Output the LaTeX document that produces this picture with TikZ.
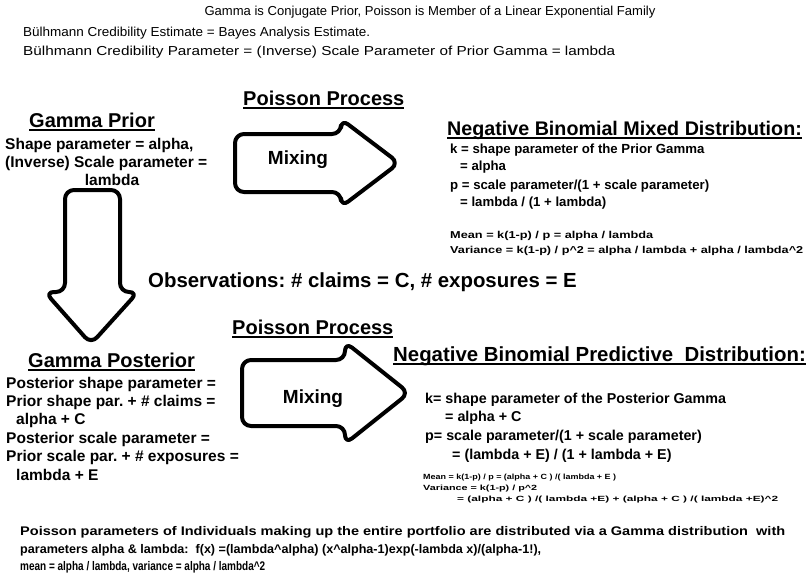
\documentclass[tikz,border=0pt]{standalone}
\usepackage{fontspec}
\usepackage{graphicx}
\setmainfont{Liberation Sans}
\newcommand\fitw[2]{\resizebox{#1}{\height}{#2}}
\newcommand\ulx[1]{\setbox0\hbox{#1}\rlap{\rule[-4pt]{\wd0}{2.2pt}}\box0}
\frenchspacing
\begin{document}
\begin{tikzpicture}[x=1pt,y=-1pt,
  txt/.style={anchor=west,inner sep=0pt,font=\fontsize{13}{15}\selectfont},
  lbody/.style={anchor=west,inner sep=0pt,font=\fontsize{15.5}{17}\bfseries\selectfont},
  rbody/.style={anchor=west,inner sep=0pt,font=\fontsize{13.2}{15}\bfseries\selectfont},
  rbody2/.style={anchor=west,inner sep=0pt,font=\fontsize{14.3}{16}\bfseries\selectfont},
  head/.style={anchor=base west,inner sep=0pt,font=\fontsize{20}{22}\bfseries\selectfont},
  small/.style={anchor=west,inner sep=0pt,font=\fontsize{10}{11}\bfseries\selectfont},
  tiny/.style={anchor=west,inner sep=0pt,font=\fontsize{7.5}{8}\bfseries\selectfont},
  foot/.style={anchor=west,inner sep=0pt,font=\fontsize{12.5}{14}\bfseries\selectfont},
  bigarrow/.style={draw=black,line width=4pt,rounded corners=9pt,line join=round},
  mix/.style={inner sep=0pt,font=\fontsize{19}{21}\bfseries\selectfont}]
\useasboundingbox (0,0) rectangle (810,578);

% header
\node[inner sep=0pt,font=\fontsize{13}{15}\selectfont] (title) at (430,12) {\fitw{451pt}{Gamma is Conjugate Prior, Poisson is Member of a Linear Exponential Family}};
\node[txt] (b1) at (23,33) {\fitw{347pt}{Bülhmann Credibility Estimate = Bayes Analysis Estimate.}};
\node[txt] (b2) at (23,52) {\fitw{592pt}{Bülhmann Credibility Parameter = (Inverse) Scale Parameter of Prior Gamma = lambda}};

% arrows
\draw[bigarrow] (235,134) -- (341,134) -- (341,119) -- (399,163) -- (341,207) -- (341,192) -- (235,192) -- cycle;
\node[mix] (mix1) at (298,160) {Mixing};
\draw[bigarrow] (65,190) -- (120,190) -- (120,292) -- (138,292) -- (91,344) -- (45,292) -- (65,292) -- cycle;
\draw[bigarrow] (242,360) -- (345,360) -- (345,342) -- (409,393) -- (345,444) -- (345,426) -- (242,426) -- cycle;
\node[mix] (mix2) at (313,399) {Mixing};

% Gamma prior
\node[head] (gp) at (29,127) {\ulx{Gamma Prior}};
\node[lbody] (gp1) at (5,145) {Shape parameter = alpha,};
\node[lbody] (gp2) at (5,163) {(Inverse) Scale parameter =};
\node[lbody,anchor=center] (gp3) at (112,180) {lambda};

% Poisson process top
\node[head] (pp1) at (243,105) {\ulx{Poisson Process}};

% NB mixed
\node[head,font=\fontsize{19.7}{22}\bfseries\selectfont] (nbm) at (447,135) {\ulx{Negative Binomial Mixed Distribution:}};
\node[rbody] (nbm1) at (450,150) {k = shape parameter of the Prior Gamma};
\node[rbody] (nbm2) at (460,167) {= alpha};
\node[rbody] (nbm3) at (450,186) {p = scale parameter/(1 + scale parameter)};
\node[rbody] (nbm4) at (460,203) {= lambda / (1 + lambda)};
\node[small] (nbm5) at (450,236) {\fitw{203pt}{Mean = k(1-p) / p = alpha / lambda}};
\node[small] (nbm6) at (450,251) {\fitw{353pt}{Variance = k(1-p) / p\^{}2 = alpha / lambda + alpha / lambda\^{}2}};

% observations
\node[head,anchor=west,font=\fontsize{20.4}{22}\bfseries\selectfont] (obs) at (148,282) {Observations: \# claims = C, \# exposures = E};

% lower
\node[head] (pp2) at (232,334) {\ulx{Poisson Process}};
\node[head] (gpost) at (28,367) {\ulx{Gamma Posterior}};
\node[lbody] (gq1) at (6,384) {Posterior shape parameter =};
\node[lbody] (gq2) at (6,402) {Prior shape par. + \# claims =};
\node[lbody] (gq3) at (16,420) {alpha + C};
\node[lbody] (gq4) at (6,439) {Posterior scale parameter =};
\node[lbody] (gq5) at (6,457) {Prior scale par. + \# exposures =};
\node[lbody] (gq6) at (16,475) {lambda + E};

\node[head,font=\fontsize{20.4}{22}\bfseries\selectfont] (nbp) at (393,361) {\ulx{Negative Binomial Predictive\ \ Distribution:}};
\node[rbody2] (nbp1) at (425,400) {k= shape parameter of the Posterior Gamma};
\node[rbody2] (nbp2) at (445,418) {= alpha + C};
\node[rbody2] (nbp3) at (425,437) {p= scale parameter/(1 + scale parameter)};
\node[rbody2] (nbp4) at (452,456) {= (lambda + E) / (1 + lambda + E)};
\node[tiny] (nbp5) at (423,478) {\fitw{193pt}{Mean = k(1-p) / p = (alpha + C ) /( lambda + E )}};
\node[tiny] (nbp6) at (423,489) {\fitw{114pt}{Variance = k(1-p) / p\^{}2}};
\node[tiny] (nbp7) at (457,500) {\fitw{321pt}{= (alpha + C ) /( lambda +E) + (alpha + C ) /( lambda +E)\^{}2}};

% bottom
\node[foot] (f1) at (20,532) {\fitw{765pt}{Poisson parameters of Individuals making up the entire portfolio are distributed via a Gamma distribution\ \ with}};
\node[foot] (f2) at (20,550) {\fitw{521pt}{parameters alpha \& lambda:\ \ f(x) =(lambda\^{}alpha) (x\^{}alpha-1)exp(-lambda x)/(alpha-1!),}};
\node[foot] (f3) at (20,567) {\fitw{245pt}{mean = alpha / lambda, variance = alpha / lambda\^{}2}};
\end{tikzpicture}
\end{document}
